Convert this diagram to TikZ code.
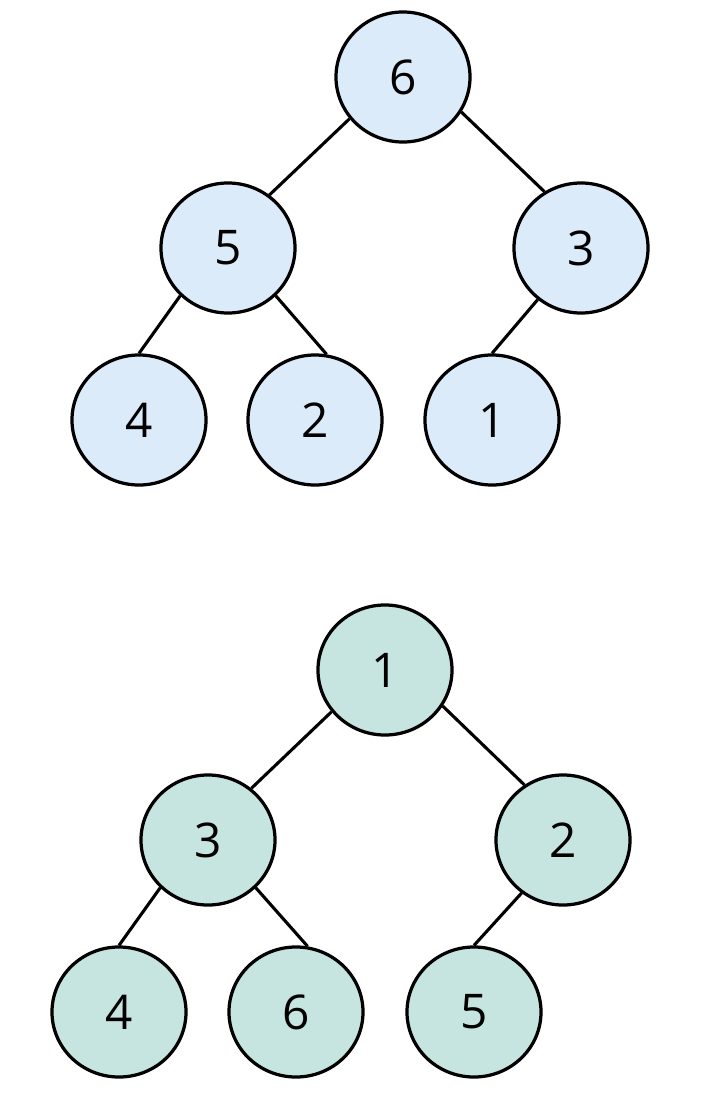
\documentclass[tikz,border=0pt]{standalone}
\usepackage{fontspec}
\setmainfont{Open Sans}
\usetikzlibrary{shapes.geometric}
\definecolor{heapblue}{HTML}{DCEBF9}
\definecolor{heapgreen}{HTML}{C6E4E0}

\begin{document}
\begin{tikzpicture}[x=0.025cm,y=-0.025cm,
    key/.style={ellipse,draw,line width=2.3pt,minimum width=3.35cm,minimum height=3.25cm,
      inner sep=0pt,font=\fontsize{34}{40}\selectfont},
    maxkey/.style={key,fill=heapblue},
    minkey/.style={key,fill=heapgreen},
    link/.style={line width=2.2pt}]
  \useasboundingbox (0,0) rectangle (708,1104);
  % 顶部的树
  \node[maxkey] (a) at (403,77) {6};
  \node[maxkey] (b) at (228,248) {5};
  \node[maxkey] (c) at (581,248) {3};
  \node[maxkey] (d) at (139,420) {4};
  \node[maxkey] (e) at (315,420) {2};
  \node[maxkey] (f) at (492,420) {1};
  \draw[link] (a.-142) -- (b.52);
  \draw[link] (a.-31) -- (c.123);
  \draw[link] (b.-135) -- (d.north);
  \draw[link] (b.-45) -- (e.80);
  \draw[link] (c.-130) -- (f.north);

  % 底部的树
  \node[minkey] (g) at (385,670) {1};
  \node[minkey] (h) at (208,840) {3};
  \node[minkey] (i) at (563,840) {2};
  \node[minkey] (j) at (119,1012) {4};
  \node[minkey] (k) at (296,1012) {6};
  \node[minkey] (l) at (474,1012) {5};
  \draw[link] (g.-142) -- (h.50);
  \draw[link] (g.-32) -- (i.125);
  \draw[link] (h.-135) -- (j.north);
  \draw[link] (h.-45) -- (k.80);
  \draw[link] (i.-128) -- (l.north);
\end{tikzpicture}
\end{document}
